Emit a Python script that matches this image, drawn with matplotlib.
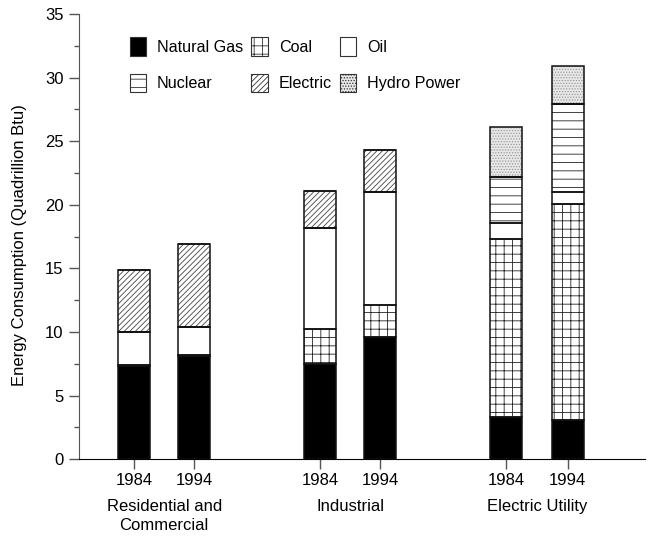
import matplotlib
matplotlib.use("Agg")
import matplotlib.pyplot as plt
from matplotlib.patches import Patch
import numpy as np

plt.rcParams['font.family'] = ['Liberation Sans', 'DejaVu Sans']
plt.rcParams['hatch.linewidth'] = 0.6

years = ["1984", "1994", "1984", "1994", "1984", "1994"]
sectors = ["Residential and\nCommercial", "Industrial", "Electric Utility"]
sources = ["Natural Gas", "Coal", "Oil", "Nuclear", "Electric", "Hydro Power"]

natural_gas = [7.3, 8.1, 7.5, 9.6, 3.3, 3.1]
coal        = [0.1, 0.1, 2.7, 2.5, 14.0, 17.0]
oil         = [2.6, 2.2, 8.0, 8.9, 1.3, 0.9]
nuclear     = [0.0, 0.0, 0.0, 0.0, 3.6, 6.9]
electric    = [4.9, 6.5, 2.9, 3.3, 0.0, 0.0]
hydro       = [0.0, 0.0, 0.0, 0.0, 3.9, 3.0]

series = [natural_gas, coal, oil, nuclear, electric, hydro]
styles = [
    dict(face="black", hatch=None, hcol="black"),
    dict(face="white", hatch="++", hcol="#222222"),
    dict(face="white", hatch=None, hcol="black"),
    dict(face="white", hatch="--", hcol="#222222"),
    dict(face="white", hatch="//////", hcol="#444444"),
    dict(face="#e8e8e8", hatch="......", hcol="#999999"),
]

xpos = np.array([0, 1, 3.1, 4.1, 6.2, 7.23])
width = 0.54

fig = plt.figure(figsize=(6.5, 5.42), dpi=100)
ax = fig.add_axes([0.1215, 0.153, 0.871, 0.821])

bottom = np.zeros(len(xpos))
for vals, st in zip(series, styles):
    v = np.array(vals)
    ax.bar(xpos, v, width, bottom=bottom, color=st["face"], hatch=st["hatch"],
           edgecolor=st["hcol"], linewidth=0, zorder=2)
    ax.bar(xpos, v, width, bottom=bottom, fill=False, edgecolor="#111111",
           linewidth=1.1, zorder=3)
    bottom += v

ax.set_ylim(0, 35)
ax.set_xlim(-0.92, 8.52)
ax.set_yticks(np.arange(0, 36, 5))
ax.set_yticks(np.arange(2.5, 35, 5), minor=True)
ax.set_xticks(xpos)
ax.set_xticklabels(years)
ax.tick_params(axis='both', labelsize=12, direction='out', length=7.2, width=1, color='#555555')
ax.tick_params(axis='y', which='minor', length=3.6, width=1, color='#555555')
ax.tick_params(axis='y', pad=4)
ax.tick_params(axis='x', pad=3)
ax.spines['top'].set_visible(False)
ax.spines['right'].set_visible(False)
ax.spines['left'].set_color('#555555')
ax.set_ylabel("Energy Consumption (Quadrillion Btu)", fontsize=12)
ax.yaxis.set_label_coords(-0.092, 0.48)

centers = [(xpos[0] + xpos[1]) / 2, (xpos[2] + xpos[3]) / 2, (xpos[4] + xpos[5]) / 2]
for c, s in zip(centers, sectors):
    ax.text(c, -3.15, s, ha='center', va='top', fontsize=12, linespacing=1.3,
            transform=ax.transData, clip_on=False)

handles = []
for name, st in zip(sources, styles):
    handles.append(Patch(facecolor=st["face"], hatch=st["hatch"], edgecolor="#333333",
                         linewidth=0.8, label=name))
order = [0, 3, 1, 4, 2, 5]
leg = ax.legend(handles=[handles[i] for i in order], ncol=3, loc='upper left',
                bbox_to_anchor=(0.064, 0.98),
                frameon=False, fontsize=11.6, handlelength=1.0, handleheight=1.35,
                handletextpad=0.7, columnspacing=0.5, labelspacing=1.12)

fig.savefig("out.png", dpi=100)
